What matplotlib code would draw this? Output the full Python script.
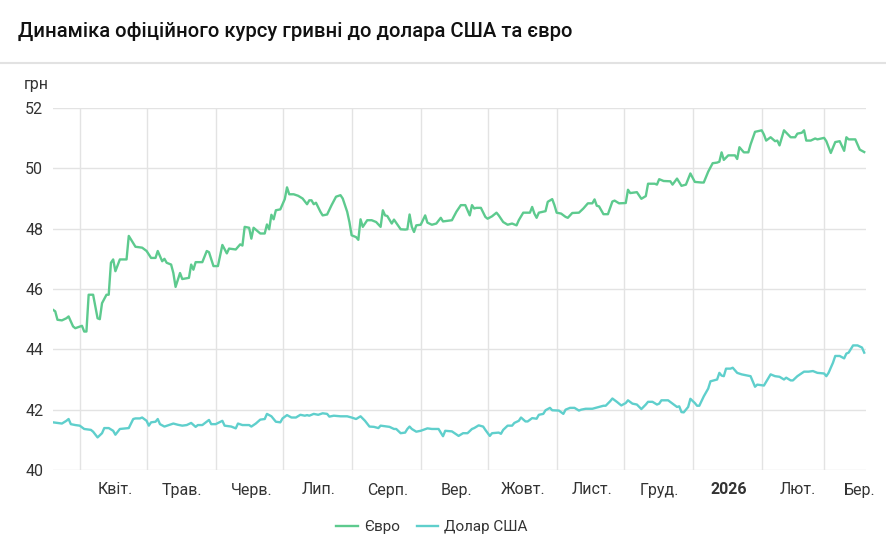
import matplotlib
matplotlib.use("Agg")
import matplotlib.pyplot as plt
from matplotlib.lines import Line2D
import pandas as pd

plt.rcParams['font.family'] = ['Roboto', 'DejaVu Sans']

# days counted from the first date on the chart
start = pd.Timestamp('2025-03-20')

eur_days = [0, 1, 2, 4, 6, 7, 9, 10, 13, 14, 15, 16, 18, 19, 20, 21, 22, 24, 25, 26,
            27, 28, 30, 33, 34, 35, 37, 40, 42, 44, 46, 47, 48, 49, 50, 51, 53, 54, 55, 57,
            58, 61, 62, 63, 64, 67, 69, 70, 72, 74, 76, 78, 79, 82, 84, 85, 86, 88, 89, 90,
            93, 95, 96, 97, 98, 99, 100, 102, 104, 105, 106, 108, 110, 112, 114, 115, 116, 117, 118, 120,
            121, 123, 125, 127, 129, 130, 132, 133, 134, 136, 137, 138, 139, 141, 143, 145, 147, 148, 149, 150,
            152, 153, 156, 158, 159, 160, 161, 162, 163, 165, 167, 168, 170, 172, 174, 175, 179, 181, 183, 185,
            187, 188, 189, 190, 192, 194, 195, 197, 199, 200, 202, 204, 206, 208, 209, 211, 214, 215, 216, 217,
            218, 221, 222, 224, 225, 226, 228, 230, 231, 233, 236, 238, 240, 242, 243, 244, 245, 247, 249, 251,
            252, 254, 257, 258, 259, 262, 264, 266, 267, 270, 271, 272, 274, 277, 278, 280, 282, 284, 286, 288,
            291, 292, 294, 296, 298, 299, 300, 301, 303, 306, 307, 308, 310, 312, 313, 315, 318, 319, 320, 322,
            324, 325, 326, 328, 331, 333, 334, 336, 337, 338, 340, 342, 343, 346, 347, 349, 351, 353, 355, 356,
            357, 360, 362, 363, 364]
eur = [45.31, 45.26, 44.98, 44.96, 45.03, 45.09, 44.76, 44.70, 44.78, 44.59, 44.59, 45.81, 45.81, 45.42, 45.03, 45.00, 45.53, 45.81, 45.81, 46.87,
       46.98, 46.59, 46.98, 46.98, 47.76, 47.64, 47.40, 47.37, 47.26, 47.03, 47.03, 47.26, 47.09, 46.92, 47.00, 46.87, 46.81, 46.53, 46.07, 46.53,
       46.33, 46.37, 46.81, 46.64, 46.89, 46.89, 47.26, 47.22, 46.76, 46.76, 47.46, 47.18, 47.34, 47.31, 47.48, 47.44, 48.06, 48.03, 47.67, 48.03,
       47.84, 47.84, 48.14, 47.98, 48.46, 48.31, 48.61, 48.64, 48.98, 49.37, 49.14, 49.14, 49.09, 49.00, 48.81, 48.94, 48.94, 48.81, 48.86, 48.56,
       48.44, 48.47, 48.78, 49.06, 49.11, 49.00, 48.56, 48.22, 47.78, 47.72, 47.63, 48.31, 48.06, 48.28, 48.28, 48.22, 48.06, 48.61, 48.44, 48.42,
       48.17, 48.30, 47.98, 47.97, 47.98, 48.47, 48.06, 47.89, 48.11, 48.13, 48.44, 48.20, 48.13, 48.17, 48.36, 48.24, 48.28, 48.56, 48.78, 48.78,
       48.44, 48.78, 48.67, 48.69, 48.69, 48.39, 48.33, 48.41, 48.53, 48.44, 48.22, 48.13, 48.17, 48.11, 48.28, 48.53, 48.53, 48.72, 48.50, 48.36,
       48.53, 48.58, 48.89, 48.98, 48.78, 48.53, 48.50, 48.39, 48.36, 48.52, 48.53, 48.67, 48.84, 48.84, 48.97, 48.76, 48.74, 48.48, 48.48, 48.90,
       48.93, 48.84, 48.85, 49.29, 49.18, 49.21, 48.99, 49.08, 49.49, 49.49, 49.46, 49.64, 49.58, 49.57, 49.46, 49.66, 49.42, 49.46, 49.83, 49.55,
       49.53, 49.53, 49.89, 50.17, 50.19, 50.22, 50.53, 50.28, 50.43, 50.43, 50.31, 50.70, 50.53, 50.53, 50.79, 51.21, 51.26, 51.12, 50.92, 51.03,
       50.90, 50.92, 50.76, 51.26, 51.03, 51.03, 51.15, 51.18, 51.26, 50.92, 50.92, 50.99, 50.96, 51.01, 50.90, 50.51, 50.87, 50.90, 50.58, 51.03,
       50.96, 50.96, 50.62, 50.58, 50.54]

usd_days = [0, 4, 6, 7, 8, 10, 12, 14, 17, 18, 20, 22, 23, 25, 27, 28, 30, 33, 34, 36,
            37, 39, 40, 42, 43, 44, 46, 47, 48, 50, 52, 54, 56, 58, 60, 62, 64, 65, 67, 70,
            71, 73, 76, 77, 80, 82, 83, 85, 88, 89, 91, 93, 95, 96, 98, 100, 102, 103, 105, 107,
            109, 111, 113, 114, 115, 117, 119, 121, 123, 124, 126, 129, 132, 134, 136, 138, 140, 142, 144, 146,
            147, 150, 151, 153, 154, 156, 158, 159, 160, 161, 163, 165, 168, 170, 173, 174, 175, 176, 179, 182,
            184, 186, 188, 189, 191, 193, 194, 196, 197, 200, 201, 202, 204, 206, 207, 209, 210, 212, 213, 215,
            217, 218, 220, 221, 223, 224, 227, 229, 230, 232, 234, 236, 237, 239, 242, 245, 247, 248, 250, 251,
            253, 255, 257, 258, 260, 262, 264, 266, 267, 269, 271, 272, 273, 276, 278, 280, 281, 282, 283, 285,
            286, 288, 289, 290, 292, 294, 295, 298, 299, 300, 301, 302, 304, 305, 307, 309, 311, 313, 315, 316,
            318, 319, 322, 324, 326, 328, 329, 331, 332, 334, 337, 339, 341, 343, 346, 347, 348, 350, 351, 353,
            355, 356, 357, 359, 361, 363, 364]
usd = [41.58, 41.54, 41.63, 41.69, 41.52, 41.49, 41.47, 41.36, 41.33, 41.27, 41.08, 41.22, 41.39, 41.39, 41.30, 41.17, 41.36, 41.38, 41.39, 41.69,
       41.71, 41.71, 41.74, 41.63, 41.47, 41.58, 41.60, 41.69, 41.52, 41.44, 41.49, 41.54, 41.50, 41.47, 41.49, 41.56, 41.43, 41.49, 41.49, 41.66,
       41.52, 41.52, 41.63, 41.47, 41.44, 41.38, 41.54, 41.49, 41.49, 41.44, 41.54, 41.67, 41.69, 41.86, 41.78, 41.60, 41.58, 41.71, 41.82, 41.74,
       41.74, 41.83, 41.80, 41.82, 41.80, 41.86, 41.83, 41.88, 41.86, 41.77, 41.80, 41.78, 41.78, 41.74, 41.69, 41.78, 41.63, 41.44, 41.43, 41.39,
       41.47, 41.44, 41.43, 41.36, 41.36, 41.22, 41.24, 41.36, 41.44, 41.36, 41.27, 41.30, 41.38, 41.36, 41.36, 41.24, 41.12, 41.30, 41.28, 41.13,
       41.22, 41.22, 41.36, 41.39, 41.48, 41.44, 41.33, 41.13, 41.22, 41.24, 41.20, 41.33, 41.47, 41.47, 41.56, 41.63, 41.74, 41.61, 41.61, 41.72,
       41.70, 41.83, 41.86, 41.98, 42.06, 41.98, 41.97, 41.86, 42.00, 42.06, 42.06, 41.97, 42.00, 42.03, 42.03, 42.09, 42.13, 42.13, 42.28, 42.37,
       42.26, 42.14, 42.22, 42.31, 42.20, 42.17, 42.02, 42.17, 42.26, 42.26, 42.17, 42.20, 42.31, 42.31, 42.20, 42.09, 42.11, 41.92, 41.91, 42.09,
       42.36, 42.22, 42.13, 42.13, 42.44, 42.70, 42.94, 43.00, 43.22, 43.13, 43.11, 43.36, 43.36, 43.39, 43.22, 43.17, 43.14, 43.11, 42.76, 42.83,
       42.81, 42.80, 43.17, 43.11, 43.09, 43.00, 43.06, 42.97, 42.97, 43.11, 43.26, 43.26, 43.28, 43.22, 43.20, 43.11, 43.22, 43.56, 43.78, 43.78,
       43.70, 43.86, 43.89, 44.13, 44.13, 44.06, 43.89]

month_labels = ['Квіт.', 'Трав.', 'Черв.', 'Лип.', 'Серп.', 'Вер.', 'Жовт.', 'Лист.',
                'Груд.', '2026', 'Лют.', 'Бер.']
month_starts = pd.date_range('2025-04-01', '2026-03-01', freq='MS')

eur_dates = start + pd.to_timedelta(eur_days, unit='D')
usd_dates = start + pd.to_timedelta(usd_days, unit='D')

W, H = 886, 546
fig = plt.figure(figsize=(W / 100, H / 100), dpi=100)
ax = fig.add_axes([53 / W, 1 - 470 / H, (866 - 53) / W, (470 - 108) / H])

eur_color = '#5dca8e'
usd_color = '#5fcfcc'
ax.plot(eur_dates, eur, color=eur_color, lw=1.7, label='Євро', solid_joinstyle='round')
ax.plot(usd_dates, usd, color=usd_color, lw=1.7, label='Долар США', solid_joinstyle='round')

ax.set_ylim(40, 52)
ax.set_yticks(range(40, 53, 2))
ax.set_xlim(start, start + pd.Timedelta(days=364.8))

# gridlines on month starts, labels in the middle of each month
ax.set_xticks(month_starts, minor=True)
ax.set_xticks(month_starts + pd.Timedelta(days=16))
ax.set_xticklabels(month_labels)
for lbl in ax.get_xticklabels():
    if lbl.get_text() == '2026':
        lbl.set_fontweight('bold')

ax.grid(axis='y', color='#e3e3e3', lw=1)
ax.grid(axis='x', which='minor', color='#e3e3e3', lw=1)
ax.grid(axis='x', which='major', visible=False)
ax.tick_params(axis='both', which='both', length=0, labelsize=11.5, colors='#333333')
ax.tick_params(axis='x', pad=9)
ax.tick_params(axis='y', pad=7)
for s in ax.spines.values():
    s.set_visible(False)
ax.set_axisbelow(True)

fig.text(18 / W, 1 - 31 / H, 'Динаміка офіційного курсу гривні до долара США та євро',
         fontsize=14.6, fontweight='medium', color='#111111', va='center', ha='left')
fig.add_artist(Line2D([0, 1], [1 - 63 / H, 1 - 63 / H], color='#e2e2e2', lw=1.5,
                      transform=fig.transFigure))
fig.text(24 / W, 1 - 84 / H, 'грн', fontsize=11.5, color='#333333', va='center', ha='left')

fig.legend(loc='center', bbox_to_anchor=(432 / W, 1 - 527 / H), ncol=2, frameon=False,
           fontsize=11, handlelength=1.4, columnspacing=1.1, handletextpad=0.4,
           labelcolor='#333333')

fig.savefig('out.png', dpi=100)
